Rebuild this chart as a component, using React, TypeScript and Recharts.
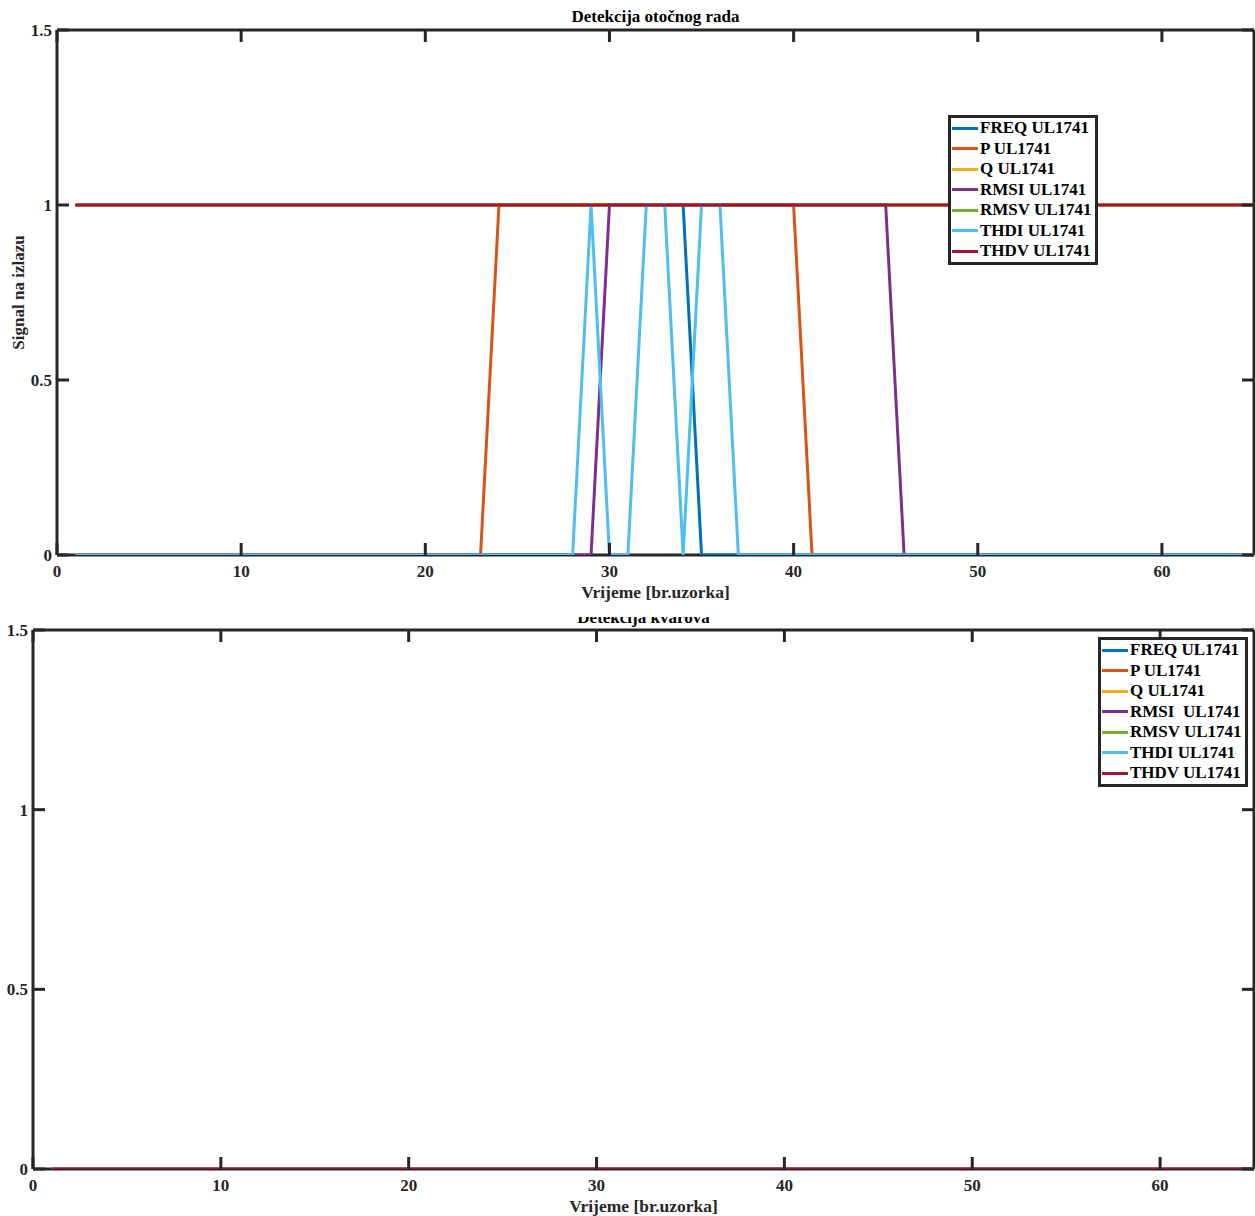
import { LineChart, Line, XAxis, YAxis, Legend } from "recharts";

// sample index on the x axis
const samples = [
  1, 2, 3, 4, 5, 6, 7, 8, 9, 10,
  11, 12, 13, 14, 15, 16, 17, 18, 19, 20,
  21, 22, 23, 24, 25, 26, 27, 28, 29, 30,
  31, 32, 33, 34, 35, 36, 37, 38, 39, 40,
  41, 42, 43, 44, 45, 46, 47, 48, 49, 50,
  51, 52, 53, 54, 55, 56, 57, 58, 59, 60,
  61, 62, 63, 64, 65,
];

const xTicks = [0, 10, 20, 30, 40, 50, 60];
const yTicks = [0, 0.5, 1, 1.5];

// island detection (top plot)
const freqTop = [
  1, 1, 1, 1, 1, 1, 1, 1, 1, 1,
  1, 1, 1, 1, 1, 1, 1, 1, 1, 1,
  1, 1, 1, 1, 1, 1, 1, 1, 1, 1,
  1, 1, 1, 1, 0, 0, 0, 0, 0, 0,
  0, 0, 0, 0, 0, 0, 0, 0, 0, 0,
  0, 0, 0, 0, 0, 0, 0, 0, 0, 0,
  0, 0, 0, 0, 0,
];
const pTop = [
  0, 0, 0, 0, 0, 0, 0, 0, 0, 0,
  0, 0, 0, 0, 0, 0, 0, 0, 0, 0,
  0, 0, 0, 1, 1, 1, 1, 1, 1, 1,
  1, 1, 1, 1, 1, 1, 1, 1, 1, 1,
  0, 0, 0, 0, 0, 0, 0, 0, 0, 0,
  0, 0, 0, 0, 0, 0, 0, 0, 0, 0,
  0, 0, 0, 0, 0,
];
const qTop = [
  1, 1, 1, 1, 1, 1, 1, 1, 1, 1,
  1, 1, 1, 1, 1, 1, 1, 1, 1, 1,
  1, 1, 1, 1, 1, 1, 1, 1, 1, 1,
  1, 1, 1, 1, 1, 1, 1, 1, 1, 1,
  1, 1, 1, 1, 1, 1, 1, 1, 1, 1,
  1, 1, 1, 1, 1, 1, 1, 1, 1, 1,
  1, 1, 1, 1, 1,
];
const rmsiTop = [
  0, 0, 0, 0, 0, 0, 0, 0, 0, 0,
  0, 0, 0, 0, 0, 0, 0, 0, 0, 0,
  0, 0, 0, 0, 0, 0, 0, 0, 0, 1,
  1, 1, 1, 1, 1, 1, 1, 1, 1, 1,
  1, 1, 1, 1, 1, 0, 0, 0, 0, 0,
  0, 0, 0, 0, 0, 0, 0, 0, 0, 0,
  0, 0, 0, 0, 0,
];
const rmsvTop = [
  1, 1, 1, 1, 1, 1, 1, 1, 1, 1,
  1, 1, 1, 1, 1, 1, 1, 1, 1, 1,
  1, 1, 1, 1, 1, 1, 1, 1, 1, 1,
  1, 1, 1, 1, 1, 1, 1, 1, 1, 1,
  1, 1, 1, 1, 1, 1, 1, 1, 1, 1,
  1, 1, 1, 1, 1, 1, 1, 1, 1, 1,
  1, 1, 1, 1, 1,
];
const thdiTop = [
  0, 0, 0, 0, 0, 0, 0, 0, 0, 0,
  0, 0, 0, 0, 0, 0, 0, 0, 0, 0,
  0, 0, 0, 0, 0, 0, 0, 0, 1, 0,
  0, 1, 1, 0, 1, 1, 0, 0, 0, 0,
  0, 0, 0, 0, 0, 0, 0, 0, 0, 0,
  0, 0, 0, 0, 0, 0, 0, 0, 0, 0,
  0, 0, 0, 0, 0,
];
const thdvTop = [
  1, 1, 1, 1, 1, 1, 1, 1, 1, 1,
  1, 1, 1, 1, 1, 1, 1, 1, 1, 1,
  1, 1, 1, 1, 1, 1, 1, 1, 1, 1,
  1, 1, 1, 1, 1, 1, 1, 1, 1, 1,
  1, 1, 1, 1, 1, 1, 1, 1, 1, 1,
  1, 1, 1, 1, 1, 1, 1, 1, 1, 1,
  1, 1, 1, 1, 1,
];

// fault detection (bottom plot) - nothing fires
const offBottom = [
  0, 0, 0, 0, 0, 0, 0, 0, 0, 0,
  0, 0, 0, 0, 0, 0, 0, 0, 0, 0,
  0, 0, 0, 0, 0, 0, 0, 0, 0, 0,
  0, 0, 0, 0, 0, 0, 0, 0, 0, 0,
  0, 0, 0, 0, 0, 0, 0, 0, 0, 0,
  0, 0, 0, 0, 0, 0, 0, 0, 0, 0,
  0, 0, 0, 0, 0,
];

const keys = ["freq", "p", "q", "rmsi", "rmsv", "thdi", "thdv"];
const topLabels = ["FREQ UL1741", "P UL1741", "Q UL1741", "RMSI UL1741", "RMSV UL1741", "THDI UL1741", "THDV UL1741"];
const bottomLabels = ["FREQ UL1741", "P UL1741", "Q UL1741", "RMSI  UL1741", "RMSV UL1741", "THDI UL1741", "THDV UL1741"];
const colors = ["#0072BD", "#D95319", "#EDB120", "#7E2F8E", "#77AC30", "#4DBEEE", "#A2142F"];

const topSeries = [freqTop, pTop, qTop, rmsiTop, rmsvTop, thdiTop, thdvTop];
const bottomSeries = [offBottom, offBottom, offBottom, offBottom, offBottom, offBottom, offBottom];

const buildRows = (series: number[][]) =>
  samples.map((s, i) => {
    const row: Record<string, number> = { x: s };
    keys.forEach((k, j) => (row[k] = series[j][i]));
    return row;
  });

const topData = buildRows(topSeries);
const bottomData = buildRows(bottomSeries);

const FONT = "'Liberation Serif', 'Times New Roman', serif";
const AXIS = "#262626";
const TICK = 12;
const FS = 17;

const BottomTick = ({ x, y, payload }: any) => (
  <g>
    <line x1={x} y1={y} x2={x} y2={y - TICK} stroke={AXIS} strokeWidth={3} />
    <text x={x} y={y + 22} textAnchor="middle" fontFamily={FONT} fontWeight="bold" fontSize={FS} fill={AXIS}>
      {payload.value}
    </text>
  </g>
);
const TopTick = ({ x, y }: any) => (
  <line x1={x} y1={y} x2={x} y2={y + TICK} stroke={AXIS} strokeWidth={3} />
);
const LeftTick = ({ x, y, payload }: any) => (
  <g>
    <line x1={x} y1={y} x2={x + TICK} y2={y} stroke={AXIS} strokeWidth={3} />
    <text x={x - 5} y={y} dy="0.35em" textAnchor="end" fontFamily={FONT} fontWeight="bold" fontSize={FS} fill={AXIS}>
      {payload.value}
    </text>
  </g>
);
const RightTick = ({ x, y }: any) => (
  <line x1={x} y1={y} x2={x - TICK} y2={y} stroke={AXIS} strokeWidth={3} />
);

const makeLegend = (labels: string[]) => () => (
  <div
    style={{
      border: `3px solid ${AXIS}`,
      background: "#fff",
      padding: "0 3px 0 1px",
      fontFamily: FONT,
      fontWeight: "bold",
      fontSize: FS,
      color: "#000",
      whiteSpace: "pre",
    }}
  >
    {labels.map((l, i) => (
      <div key={l} style={{ display: "flex", alignItems: "center", height: 20.5 }}>
        <div style={{ width: 26, height: 3, background: colors[i], marginRight: 2 }} />
        <span>{l}</span>
      </div>
    ))}
  </div>
);

type PanelProps = {
  data: Record<string, number>[];
  labels: string[];
  height: number;
  topH: number;
  bottomH: number;
  leftW: number;
  title: string;
  titleY: number;
  xLabelY: number;
  yLabelX: number;
  yLabelClip?: number;
  legendPos: { left: number; top: number };
};

const Panel = ({ data, labels, height, topH, bottomH, leftW, title, titleY, xLabelY, yLabelX, yLabelClip, legendPos }: PanelProps) => {
  const plotCx = (leftW + 1254) / 2;
  const plotCy = topH + (height - topH - bottomH) / 2;
  const clipId = `ylab-${title.length}`;
  return (
    <LineChart width={1255} height={height} data={data} margin={{ top: 0, right: 0, bottom: 0, left: 0 }}>
      <XAxis
        dataKey="x"
        type="number"
        domain={[0, 65]}
        ticks={xTicks}
        height={bottomH}
        tickSize={0}
        tickMargin={0}
        tickLine={false}
        tick={<BottomTick />}
        axisLine={{ stroke: AXIS, strokeWidth: 3 }}
        allowDataOverflow
      />
      <XAxis
        xAxisId="top"
        orientation="top"
        dataKey="x"
        type="number"
        domain={[0, 65]}
        ticks={xTicks}
        height={topH}
        tickSize={0}
        tickMargin={0}
        tickLine={false}
        tick={<TopTick />}
        axisLine={{ stroke: AXIS, strokeWidth: 3 }}
        allowDataOverflow
      />
      <YAxis
        type="number"
        domain={[0, 1.5]}
        ticks={yTicks}
        width={leftW}
        tickSize={0}
        tickMargin={0}
        tickLine={false}
        tick={<LeftTick />}
        axisLine={{ stroke: AXIS, strokeWidth: 3 }}
        allowDataOverflow
      />
      <YAxis
        yAxisId="right"
        orientation="right"
        type="number"
        domain={[0, 1.5]}
        ticks={yTicks}
        width={1}
        tickSize={0}
        tickMargin={0}
        tickLine={false}
        tick={<RightTick />}
        axisLine={{ stroke: AXIS, strokeWidth: 3 }}
        allowDataOverflow
      />
      {keys.map((k, i) => (
        <Line
          key={k}
          dataKey={k}
          name={labels[i]}
          stroke={colors[i]}
          strokeWidth={3}
          dot={false}
          isAnimationActive={false}
          type="linear"
          zIndex={800}
        />
      ))}
      <Legend
        layout="vertical"
        align="center"
        verticalAlign="middle"
        content={makeLegend(labels)}
        wrapperStyle={{ left: legendPos.left, top: legendPos.top, width: "auto", height: "auto" }}
      />
      <defs>
        <clipPath id={clipId}>
          <rect x={yLabelClip ?? 0} y={0} width={60} height={height} />
        </clipPath>
      </defs>
      <text x={plotCx} y={titleY} textAnchor="middle" fontFamily={FONT} fontWeight="bold" fontSize={FS} fill="#000">
        {title}
      </text>
      <text x={plotCx} y={xLabelY} textAnchor="middle" fontFamily={FONT} fontWeight="bold" fontSize={17.5} fill={AXIS}>
        Vrijeme [br.uzorka]
      </text>
      <text
        x={plotCy}
        y={0}
        textAnchor="middle"
        transform={`translate(${yLabelX}, 0) rotate(-90) translate(${-2 * plotCy}, 0)`}
        clipPath={yLabelClip != null ? `url(#${clipId})` : undefined}
        fontFamily={FONT}
        fontWeight="bold"
        fontSize={FS}
        fill={AXIS}
      >
        Signal na izlazu
      </text>
    </LineChart>
  );
};

export default function App() {
  return (
    <div style={{ position: "absolute", left: 0, top: 0, width: 1255, height: 1216, background: "#fff", overflow: "hidden" }}>
      <div style={{ position: "absolute", left: 0, top: 612, zIndex: 1 }}>
        <Panel
          data={bottomData}
          labels={bottomLabels}
          height={604}
          topH={18}
          bottomH={47}
          leftW={33}
          title="Detekcija kvarova"
          titleY={11}
          xLabelY={600}
          yLabelX={10}
          yLabelClip={7}
          legendPos={{ left: 1098, top: 25 }}
        />
      </div>
      <div style={{ position: "absolute", left: 0, top: 0, height: 617, width: 1255, background: "#fff", zIndex: 2, overflow: "hidden" }}>
        <Panel
          data={topData}
          labels={topLabels}
          height={612}
          topH={30}
          bottomH={57}
          leftW={57}
          title="Detekcija otočnog rada"
          titleY={22}
          xLabelY={598}
          yLabelX={24}
          legendPos={{ left: 948, top: 115 }}
        />
      </div>
    </div>
  );
}
